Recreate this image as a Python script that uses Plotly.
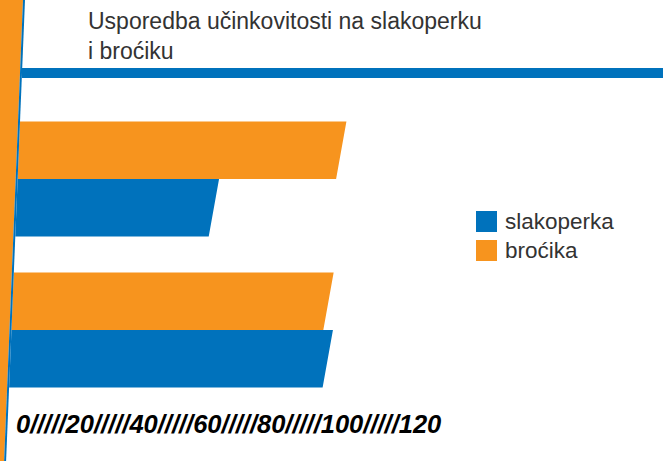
import plotly.graph_objects as go

# ---- data ----
categories = ["1", "2"]
series_names = ["slakoperka", "broćika"]
slakoperka = [60, 96.5]
brocika = [98, 96]
tick_values = [0, 20, 40, 60, 80, 100, 120]
title_lines = ["Usporedba učinkovitosti na slakoperku", "i broćiku"]

BLUE = "#0072BC"
ORANGE = "#F7941E"
W, H = 669, 461

# ---- geometry of the skewed look ----
PX_PER_UNIT = 3.29       # px per value unit
ROW_PX = 151.0           # px per category row
ROW0_PX = 179.0          # pixel y of first category centre
BAR_H = 0.38             # bar thickness in row units
AXIS_SLOPE = 0.041       # px of x shift per px of y (axis)
BAR_SLOPE = 0.18         # px of x shift per px of y (bar ends)
AXIS_X0 = 25.0           # px x of axis (bar start) at top of page

x_min = -AXIS_X0 / PX_PER_UNIT
x_max = x_min + W / PX_PER_UNIT
y_top = -ROW0_PX / ROW_PX
y_bot = (H - ROW0_PX) / ROW_PX
k_left = AXIS_SLOPE * ROW_PX / PX_PER_UNIT
k_right = BAR_SLOPE * ROW_PX / PX_PER_UNIT


def left(y):
    return -k_left * (y - y_top)


def bar_poly(v, y0, y1):
    ym = (y0 + y1) / 2
    xr_mid = left(ym) + v
    xs = [left(y0), xr_mid - k_right * (y0 - ym), xr_mid - k_right * (y1 - ym), left(y1), left(y0)]
    ys = [y0, y0, y1, y1, y0]
    return xs, ys


fig = go.Figure()

for name, vals, color, side in [("broćika", brocika, ORANGE, -1), ("slakoperka", slakoperka, BLUE, 1)]:
    X, Y = [], []
    for i, v in enumerate(vals):
        if side < 0:
            xs, ys = bar_poly(v, i - BAR_H, i)
        else:
            xs, ys = bar_poly(v, i, i + BAR_H)
        X += xs + [None]
        Y += ys + [None]
    fig.add_trace(go.Scatter(x=X, y=Y, mode="lines", fill="toself", fillcolor=color,
                             line=dict(width=0, color=color), name=name,
                             hoverinfo="skip", showlegend=False))


def px(x):
    return x / W


def py(y):
    return 1 - y / H


shapes = []
# orange slanted axis band
shapes.append(dict(type="path", xref="paper", yref="paper",
                   path=f"M {px(0)},{py(0)} L {px(23)},{py(0)} L {px(23 - AXIS_SLOPE * H)},{py(H)} L {px(0)},{py(H)} Z",
                   fillcolor=ORANGE, line=dict(width=0), layer="above"))
# thin blue edge
shapes.append(dict(type="line", xref="paper", yref="paper",
                   x0=px(24), y0=py(0), x1=px(24 - AXIS_SLOPE * H), y1=py(H),
                   line=dict(color=BLUE, width=2), layer="above"))
# blue title rule
shapes.append(dict(type="rect", xref="paper", yref="paper",
                   x0=px(22), x1=px(663), y0=py(68), y1=py(78),
                   fillcolor=BLUE, line=dict(width=0)))
# legend squares
for j, c in enumerate([BLUE, ORANGE]):
    shapes.append(dict(type="rect", xref="paper", yref="paper",
                       x0=px(476), x1=px(497), y0=py(211 + 29 * j), y1=py(232 + 29 * j),
                       fillcolor=c, line=dict(width=0)))

annotations = []
annotations.append(dict(xref="paper", yref="paper", x=px(86), y=py(6), xanchor="left", yanchor="top",
                        text="<br>".join(title_lines), showarrow=False, align="left",
                        font=dict(family="Liberation Sans", size=23, color="#333333")))
for j, n in enumerate(series_names):
    annotations.append(dict(xref="paper", yref="paper", x=px(503), y=py(221.5 + 29 * j), xanchor="left",
                            yanchor="middle", text=n, showarrow=False,
                            font=dict(family="Liberation Sans", size=22.5, color="#333333")))
annotations.append(dict(xref="paper", yref="paper", x=px(14), y=py(424), xanchor="left", yanchor="middle",
                        text="/////".join(str(t) for t in tick_values), showarrow=False,
                        font=dict(family="Liberation Sans", size=25.5, color="#000000",
                                  weight="bold", style="italic")))

fig.update_layout(
    width=W, height=H, margin=dict(l=0, r=0, t=0, b=0),
    paper_bgcolor="white", plot_bgcolor="white",
    xaxis=dict(range=[x_min, x_max], visible=False, fixedrange=True),
    yaxis=dict(range=[y_bot, y_top], visible=False, fixedrange=True),
    shapes=shapes, annotations=annotations, showlegend=False,
)

fig.write_html("out.html", post_script="document.body.style.margin='0';document.body.style.overflow='hidden';",
               config={"displayModeBar": False})
